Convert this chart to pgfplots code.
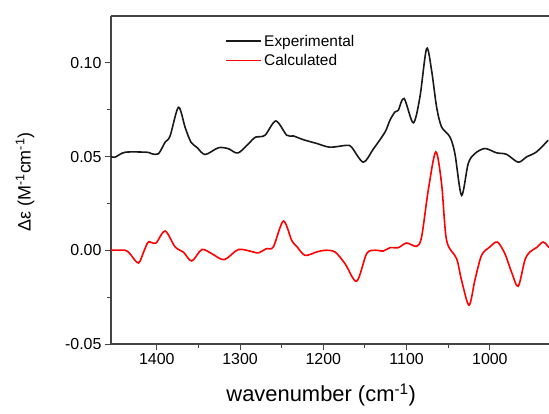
\documentclass[border=0pt]{standalone}
\usepackage{pgfplots}
\pgfplotsset{compat=1.18}
\usepackage{fontspec}
\setmainfont{Liberation Sans}
\definecolor{axgray}{HTML}{444444}
\begin{document}
\begin{tikzpicture}
\path[use as bounding box] (-111bp,-70bp) rectangle (438bp,344bp);
\begin{axis}[
  scale only axis, width=438bp, height=328bp,
  x dir=reverse, xmin=929, xmax=1455, ymin=-0.05, ymax=0.125,
  axis x line*=box, axis y line*=left,
  xtick={1000,1100,1200,1300,1400}, minor x tick num=1,
  ytick={-0.05,0,0.05,0.10}, minor y tick num=1,
  xtick pos=bottom, ytick pos=left,
  tick align=outside, major tick length=6bp, minor tick length=3.5bp,
  axis line style={axgray, line width=1.1pt},
  every tick/.style={axgray, line width=1pt},
  /pgf/number format/assume math mode=true,
  yticklabel style={/pgf/number format/fixed, /pgf/number format/fixed zerofill, /pgf/number format/precision=2, font=\fontsize{16}{16}\selectfont},
  xticklabel style={/pgf/number format/set thousands separator={}, font=\fontsize{16}{16}\selectfont},
  scaled y ticks=false,
  xlabel={wavenumber (cm\textsuperscript{-1})},
  ylabel={Δε (M\textsuperscript{-1}cm\textsuperscript{-1})},
  xlabel style={at={(axis description cs:0.48,0)}, anchor=center, yshift=-51bp, font=\fontsize{22}{22}\selectfont},
  ylabel style={at={(axis description cs:-0.196,0.494)}, anchor=center, font=\fontsize{18}{18}\selectfont},
  legend style={at={(axis description cs:0.254,0.955)}, anchor=north west, draw=none, fill=none, font=\fontsize{15.5}{15.5}\selectfont, row sep=2.5bp},
  legend cell align=left,
  legend image code/.code={\draw[#1, line width=1.8pt] (0bp,0bp) -- (35bp,0bp);},
]
\addplot[color=black!90, line width=1.6pt, smooth, tension=0.5] coordinates {
(1455,0.0500)(1450,0.0497)(1438,0.0523)(1412,0.0523)(1406,0.0515)(1398,0.0515)
(1390,0.0577)(1384,0.0610)(1374,0.0763)(1366,0.0656)(1359,0.0577)(1352,0.0550)
(1342,0.0511)(1326,0.0547)(1314,0.0542)(1302,0.0520)(1284,0.0595)(1280,0.0605)
(1270,0.0614)(1257,0.0690)(1244,0.0614)(1236,0.0610)(1224,0.0590)(1208,0.0570)
(1192,0.0550)(1172,0.0560)(1166,0.0550)(1152,0.0470)(1140,0.0540)(1126,0.0630)
(1120,0.0694)(1114,0.0738)(1110,0.0747)(1103,0.0810)(1092,0.0680)(1084,0.0818)
(1076,0.1076)(1070,0.0960)(1064,0.0765)(1058,0.0658)(1048,0.0605)(1042,0.0516)
(1034,0.0293)(1026,0.0463)(1018,0.0516)(1006,0.0543)(992,0.0520)(980,0.0512)
(966,0.0470)(956,0.0498)(944,0.0525)(930,0.0587)
};
\addlegendentry{Experimental}
\addplot[color=red, line width=1.6pt, smooth, tension=0.5] coordinates {
(1455,0.0000)(1438,0.0000)(1432,-0.0020)(1422,-0.0068)(1415,0.0000)(1410,0.0044)
(1401,0.0039)(1390,0.0103)(1378,0.0018)(1368,-0.0010)(1358,-0.0057)(1346,0.0004)
(1334,-0.0018)(1319,-0.0050)(1302,0.0004)(1284,-0.0009)(1278,-0.0014)(1268,0.0009)
(1260,0.0018)(1248,0.0156)(1238,0.0053)(1232,0.0021)(1222,-0.0027)(1208,-0.0009)
(1198,0.0000)(1186,-0.0009)(1174,-0.0071)(1160,-0.0165)(1148,-0.0018)(1138,0.0000)
(1128,-0.0004)(1120,0.0014)(1110,0.0014)(1100,0.0039)(1088,0.0021)(1082,0.0071)
(1074,0.0320)(1065,0.0525)(1058,0.0356)(1052,0.0053)(1040,-0.0044)(1034,-0.0160)
(1025,-0.0293)(1018,-0.0160)(1010,-0.0027)(1000,0.0018)(991,0.0044)(982,-0.0018)
(974,-0.0116)(966,-0.0192)(958,-0.0053)(952,-0.0009)(944,0.0014)(936,0.0044)
(929,0.0014)
};
\addlegendentry{Calculated}
\end{axis}
\end{tikzpicture}
\end{document}
